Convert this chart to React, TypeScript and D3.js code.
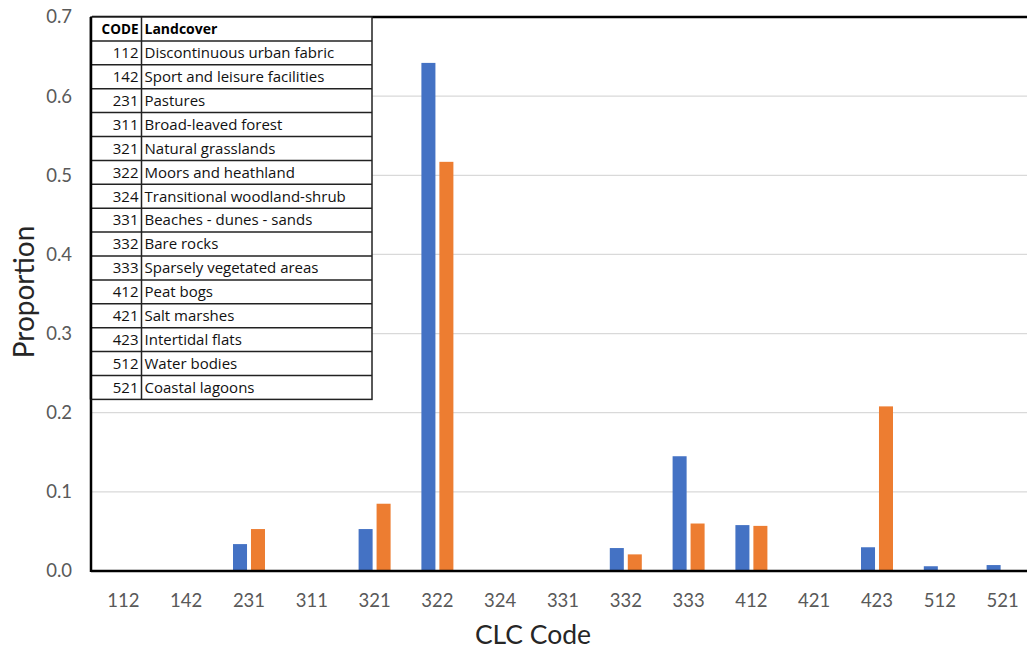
import React from "react";
import * as d3 from "d3";

const codes = ["112", "142", "231", "311", "321", "322", "324", "331", "332", "333", "412", "421", "423", "512", "521"];
const landcover = [
  "Discontinuous urban fabric",
  "Sport and leisure facilities",
  "Pastures",
  "Broad-leaved forest",
  "Natural grasslands",
  "Moors and heathland",
  "Transitional woodland-shrub",
  "Beaches - dunes - sands",
  "Bare rocks",
  "Sparsely vegetated areas",
  "Peat bogs",
  "Salt marshes",
  "Intertidal flats",
  "Water bodies",
  "Coastal lagoons",
];
const seriesBlue = [0, 0, 0.034, 0, 0.053, 0.642, 0, 0, 0.029, 0.145, 0.058, 0, 0.030, 0.006, 0.0075];
const seriesOrange = [0, 0, 0.053, 0, 0.085, 0.517, 0, 0, 0.021, 0.060, 0.057, 0, 0.208, 0, 0];
const yTicks = [0, 0.1, 0.2, 0.3, 0.4, 0.5, 0.6, 0.7];
const seriesNames = ["A", "B"];
const colors = ["#4472C4", "#ED7D31"];

export default function App() {
  const W = 1027, H = 650;
  const left = 92, right = 1034, top = 17, bottom = 571;
  const x = d3.scaleBand<string>().domain(codes).range([left, right]).padding(0);
  const y = d3.scaleLinear().domain([0, 0.7]).range([bottom, top]);
  const groupW = 32;
  const x1 = d3.scaleBand<string>().domain(seriesNames).range([0, groupW]).paddingInner(0.22);
  const series = [seriesBlue, seriesOrange];
  const fmt = d3.format(".1f");

  const tblLeft = 91, tblRight = 372, tblDiv = 141.5, tblTop = 17, rowH = 23.9;
  const font = "Lato, 'Open Sans', sans-serif";
  const tblFont = "'Open Sans', sans-serif";

  return (
    <svg width={W} height={H} style={{ position: "absolute", left: 0, top: 0, background: "#fff" }} fontFamily={font}>
      <rect x={0} y={0} width={W} height={H} fill="#fff" />
      {yTicks.slice(1, -1).map((t) => (
        <line key={"g" + t} x1={left} x2={W} y1={y(t)} y2={y(t)} stroke="#d9d9d9" strokeWidth={1.3} />
      ))}
      {yTicks.map((t) => (
        <text key={"yt" + t} x={72} y={y(t)} dy="0.35em" textAnchor="end" fontSize={18.5} fill="#595959">
          {fmt(t)}
        </text>
      ))}
      {series.map((s, si) =>
        s.map((v, i) =>
          v > 0 ? (
            <rect
              key={si + "-" + i}
              x={(x(codes[i]) as number) + (x.bandwidth() - groupW) / 2 + (x1(seriesNames[si]) as number)}
              y={y(v)}
              width={x1.bandwidth()}
              height={y(0) - y(v)}
              fill={colors[si]}
            />
          ) : null
        )
      )}
      {codes.map((c) => (
        <text key={"xt" + c} x={(x(c) as number) + x.bandwidth() / 2} y={607} textAnchor="middle" fontSize={18.5} fill="#595959">
          {c}
        </text>
      ))}
      <line x1={left} x2={W} y1={top} y2={top} stroke="#000" strokeWidth={2.5} />
      <line x1={left - 1} x2={W} y1={bottom} y2={bottom} stroke="#000" strokeWidth={2.5} />
      <line x1={left - 1} x2={left - 1} y1={top} y2={bottom + 1} stroke="#000" strokeWidth={2.5} />
      <g fontFamily={tblFont}>
        <rect x={tblLeft} y={tblTop} width={tblRight - tblLeft} height={rowH * 16} fill="#fff" stroke="#222" strokeWidth={1.5} />
        {d3.range(1, 16).map((r) => (
          <line key={"r" + r} x1={tblLeft} x2={tblRight} y1={tblTop + r * rowH} y2={tblTop + r * rowH} stroke="#222" strokeWidth={1.5} />
        ))}
        <line x1={tblDiv} x2={tblDiv} y1={tblTop} y2={tblTop + rowH * 16} stroke="#222" strokeWidth={1.5} />
        <line x1={tblLeft} x2={tblLeft} y1={tblTop} y2={tblTop + rowH * 16} stroke="#000" strokeWidth={2.5} />
        <text x={tblDiv - 3} y={tblTop + rowH / 2} dy="0.35em" textAnchor="end" fontSize={13.5} fontWeight="bold" fill="#000">CODE</text>
        <text x={tblDiv + 3} y={tblTop + rowH / 2} dy="0.35em" fontSize={14} fontWeight="bold" fill="#000">Landcover</text>
        {codes.map((c, i) => (
          <g key={"row" + c}>
            <text x={tblDiv - 3} y={tblTop + (i + 1.5) * rowH} dy="0.35em" textAnchor="end" fontSize={15} fill="#111">{c}</text>
            <text x={tblDiv + 3} y={tblTop + (i + 1.5) * rowH} dy="0.35em" fontSize={15} fill="#111">{landcover[i]}</text>
          </g>
        ))}
      </g>
      <text x={533} y={644} textAnchor="middle" fontSize={26.5} fill="#262626">CLC Code</text>
      <text transform={`translate(34,${292}) rotate(-90)`} textAnchor="middle" fontSize={28} fill="#262626">Proportion</text>
    </svg>
  );
}
